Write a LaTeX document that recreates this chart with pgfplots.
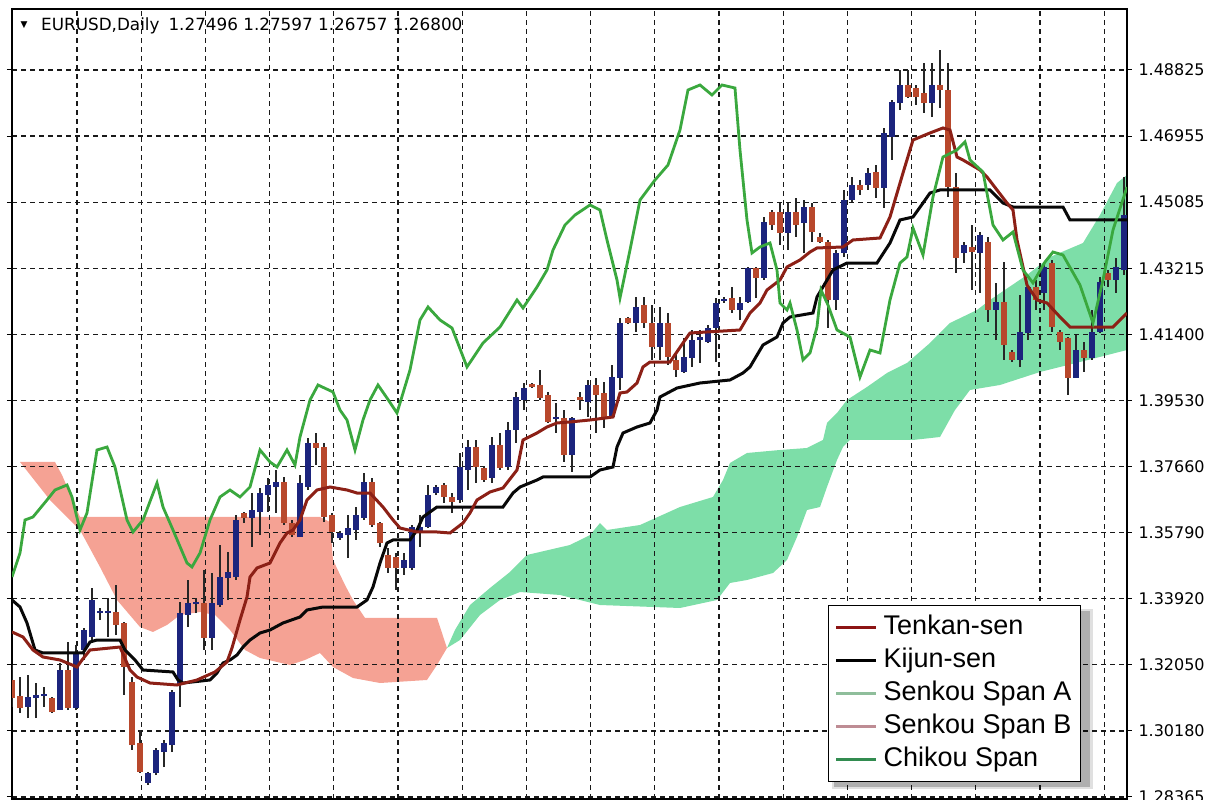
\documentclass[border=0pt]{standalone}
\usepackage{fontspec}
\setmainfont{Liberation Sans}
\newfontfamily\dejavu{DejaVu Sans}
\usepackage{pgfplots}
\usepackage{pgfplotstable}
\pgfplotsset{compat=1.18}
\definecolor{bullc}{RGB}{28,36,125}
\definecolor{bearc}{RGB}{184,72,44}
\definecolor{tenkanc}{RGB}{140,32,22}
\definecolor{kijunc}{RGB}{8,8,8}
\definecolor{chikouc}{RGB}{58,168,62}
\definecolor{cloudgreen}{RGB}{125,222,168}
\definecolor{cloudred}{RGB}{245,162,148}
\definecolor{legA}{RGB}{143,190,155}
\definecolor{legB}{RGB}{190,140,148}
\definecolor{legC}{RGB}{50,140,80}
\definecolor{legT}{RGB}{140,20,20}

% bullish candles: x o h l c
\pgfplotstableread{
x o h l c
2 1.30898 1.31798 1.30588 1.31179
3 1.31151 1.31573 1.30588 1.31236
4 1.31207 1.31461 1.30898 1.31264
6 1.30813 1.32136 1.30813 1.31939
8 1.30870 1.32643 1.30813 1.32446
9 1.32502 1.33121 1.32221 1.33065
10 1.32868 1.34247 1.32783 1.33909
11 1.33543 1.33684 1.33346 1.33599
12 1.33543 1.33965 1.32868 1.33599
17 1.28759 1.29069 1.28703 1.29040
18 1.29040 1.29744 1.28984 1.29688
19 1.29631 1.29969 1.29209 1.29885
20 1.29828 1.31376 1.29631 1.31320
21 1.31517 1.33853 1.30898 1.33543
22 1.33487 1.34472 1.33149 1.33825
23 1.33797 1.33965 1.33543 1.33853
25 1.32840 1.34669 1.32502 1.33825
26 1.33768 1.35457 1.33712 1.34556
27 1.34528 1.35260 1.33909 1.34697
28 1.34556 1.36301 1.34472 1.36161
30 1.36217 1.36920 1.35401 1.36442
31 1.36386 1.37061 1.35738 1.36920
32 1.36864 1.37343 1.36386 1.37146
33 1.37089 1.37568 1.36358 1.37230
36 1.35682 1.37427 1.35682 1.37202
37 1.37089 1.38468 1.37005 1.38328
41 1.35654 1.35851 1.35598 1.35795
42 1.35738 1.36301 1.35091 1.35935
43 1.35879 1.36526 1.35598 1.36301
44 1.36217 1.37483 1.36161 1.37230
49 1.34810 1.35232 1.34613 1.35035
50 1.34810 1.36020 1.34753 1.35964
51 1.35795 1.36301 1.35401 1.35964
52 1.35964 1.37146 1.35935 1.36864
53 1.36920 1.37146 1.36864 1.37089
56 1.36723 1.38046 1.36639 1.37652
57 1.37568 1.38412 1.37005 1.38215
60 1.37343 1.38497 1.37202 1.38271
62 1.37652 1.38919 1.37568 1.38694
63 1.38694 1.39763 1.38328 1.39622
64 1.39538 1.40016 1.39256 1.39875
68 1.39003 1.39453 1.38609 1.39059
70 1.37990 1.39059 1.37512 1.39031
72 1.39482 1.40101 1.39059 1.39960
75 1.39059 1.40523 1.39031 1.40185
76 1.40157 1.41846 1.39819 1.41705
78 1.41705 1.42437 1.41452 1.42155
81 1.41029 1.42155 1.40664 1.41705
84 1.40326 1.41283 1.40298 1.40748
85 1.40720 1.41508 1.40467 1.41226
86 1.41226 1.41508 1.40579 1.41311
87 1.41170 1.41649 1.41142 1.41564
88 1.41564 1.42408 1.40607 1.42268
89 1.42324 1.42437 1.42268 1.42380
91 1.42071 1.42437 1.41789 1.42268
92 1.42296 1.43281 1.42268 1.43253
94 1.42971 1.44688 1.42915 1.44547
97 1.44238 1.45082 1.43759 1.44829
99 1.44519 1.45166 1.43675 1.44969
103 1.42352 1.43759 1.42071 1.43675
104 1.43675 1.45448 1.43562 1.45166
105 1.45166 1.45814 1.45110 1.45589
107 1.45589 1.46067 1.45448 1.45926
109 1.45504 1.47193 1.44941 1.47052
110 1.46939 1.47981 1.46292 1.47924
111 1.47896 1.48825 1.47699 1.48403
115 1.47896 1.49022 1.47502 1.48403
119 1.43675 1.43984 1.43393 1.43900
121 1.43675 1.44266 1.42549 1.44181
123 1.42071 1.42831 1.41226 1.42296
126 1.40664 1.42493 1.40467 1.41452
127 1.41423 1.42774 1.41226 1.42718
129 1.42549 1.43393 1.42071 1.43281
133 1.40157 1.41367 1.40157 1.40945
135 1.40720 1.42071 1.40664 1.41452
136 1.41452 1.42999 1.41423 1.42859
138 1.42915 1.43534 1.42549 1.43281
139 1.43196 1.45814 1.43056 1.44744
}\bulltab

% bearish candles: x o h l c
\pgfplotstableread{
x o h l c
0 1.31658 1.32080 1.30898 1.31151
1 1.31207 1.31742 1.30729 1.30870
5 1.31151 1.31179 1.30729 1.30757
7 1.31939 1.32727 1.30813 1.30870
13 1.33571 1.34331 1.32924 1.33206
14 1.33262 1.33290 1.31236 1.32024
15 1.31601 1.31742 1.29688 1.29828
16 1.29885 1.30251 1.29040 1.29069
24 1.33825 1.34753 1.32502 1.32840
29 1.36358 1.36386 1.36076 1.36217
34 1.37230 1.37371 1.36020 1.36076
35 1.36076 1.36161 1.35682 1.35738
38 1.38328 1.38609 1.37709 1.38187
39 1.38215 1.38328 1.36104 1.36245
40 1.36301 1.36358 1.35513 1.35823
45 1.37230 1.37343 1.35964 1.36020
46 1.36076 1.36104 1.35401 1.35513
47 1.35176 1.35373 1.34669 1.34810
48 1.35119 1.35232 1.34191 1.34810
54 1.37146 1.37202 1.36639 1.36808
55 1.36808 1.36920 1.36358 1.36667
58 1.38215 1.38412 1.37202 1.37652
59 1.37624 1.37680 1.37230 1.37286
61 1.38271 1.38609 1.37568 1.37624
65 1.39988 1.40016 1.39875 1.39904
66 1.39960 1.40382 1.39538 1.39594
67 1.39679 1.39763 1.38891 1.38919
69 1.39031 1.39256 1.37793 1.37990
71 1.39622 1.39763 1.39256 1.39538
73 1.39960 1.40157 1.38609 1.39679
74 1.39735 1.40044 1.38750 1.39059
77 1.41846 1.41874 1.41677 1.41705
79 1.42211 1.42437 1.41564 1.41705
80 1.41705 1.42211 1.40664 1.41029
82 1.41705 1.41986 1.40523 1.40748
83 1.40664 1.40804 1.40185 1.40382
90 1.42408 1.42718 1.41986 1.42071
93 1.43253 1.43281 1.42408 1.42971
95 1.44829 1.44885 1.44322 1.44463
96 1.44829 1.45082 1.43900 1.44238
98 1.44829 1.45223 1.44125 1.44463
100 1.44969 1.45082 1.43984 1.44266
101 1.44125 1.44238 1.43956 1.43984
102 1.43984 1.44041 1.41564 1.42352
106 1.45589 1.45729 1.45307 1.45448
108 1.45954 1.46151 1.45223 1.45504
112 1.48403 1.48825 1.48037 1.48065
113 1.48318 1.48403 1.47840 1.48065
114 1.48178 1.49022 1.47615 1.47896
116 1.48403 1.49388 1.47756 1.48262
117 1.48262 1.49022 1.45251 1.45532
118 1.45532 1.45926 1.43112 1.43534
120 1.43844 1.44463 1.42634 1.43703
122 1.43984 1.44125 1.41733 1.42071
124 1.42296 1.43422 1.40664 1.41086
125 1.40889 1.40945 1.40607 1.40664
128 1.42718 1.42915 1.42071 1.42352
130 1.43393 1.43478 1.41452 1.41592
131 1.41452 1.41508 1.40945 1.41170
132 1.41283 1.41311 1.39679 1.40157
134 1.40945 1.41170 1.40326 1.40720
137 1.43112 1.43196 1.42718 1.42915
}\beartab

\pgfplotstableread{
x y
0 1.33009
1.375 1.32868
2.625 1.32502
3.875 1.32305
6 1.32221
8.125 1.32024
8.75 1.32221
9.75 1.32502
12.25 1.32558
13.5 1.32586
14.75 1.31939
15.625 1.31742
17.25 1.31573
20.625 1.31517
23.125 1.31658
25.375 1.31883
26.875 1.32164
27.5 1.32558
28.5 1.33346
29.375 1.33994
29.75 1.34556
30.625 1.34810
32.25 1.34950
33.5 1.35513
34.375 1.35795
35.125 1.35879
36 1.36161
36.875 1.36723
38.125 1.37005
39.75 1.37089
41.875 1.37005
43.125 1.36920
44.75 1.36920
46.375 1.36526
47.625 1.36161
48.5 1.35935
50.625 1.35823
53.125 1.35823
54.75 1.35795
56.375 1.36076
57.25 1.36358
58.125 1.36723
59.75 1.36949
61.375 1.37061
63.125 1.37568
63.875 1.38412
65.625 1.38609
66.875 1.38778
68.125 1.38891
69.75 1.38919
72.25 1.38975
75.125 1.39059
76 1.39735
76.875 1.39763
78.125 1.40016
78.875 1.40467
79.75 1.40607
82.25 1.40607
83.875 1.41142
84.75 1.41423
91 1.41508
92.25 1.41986
93.5 1.42268
94.375 1.42634
96 1.42915
96.875 1.43281
98.5 1.43478
99.75 1.43703
100.625 1.43816
103.875 1.43844
105.125 1.44041
108.5 1.44097
109.75 1.44688
111.375 1.45926
112.625 1.46855
114.75 1.47052
116.375 1.47193
117.25 1.47136
118.125 1.46377
118.875 1.46292
121 1.46011
121.875 1.45814
124.375 1.45082
125.125 1.44885
125.625 1.44041
126.875 1.42774
128.125 1.42352
129.375 1.42268
131 1.41874
132.25 1.41592
137.625 1.41592
139.375 1.41986
}\tenkan

\pgfplotstableread{
x y
0 1.33909
1 1.33712
1.875 1.33262
2.875 1.32502
3.875 1.32418
8.875 1.32418
9.75 1.32727
10.625 1.32783
13.5 1.32783
14.125 1.32502
15.375 1.32221
16.375 1.31939
20.125 1.31883
20.75 1.31658
21.375 1.31573
24.75 1.31658
25.625 1.31855
26.375 1.32136
27.25 1.32221
28.125 1.32361
28.875 1.32586
29.75 1.32783
31 1.32980
32.25 1.33065
33.875 1.33262
36 1.33431
36.875 1.33628
38.875 1.33712
43.125 1.33712
44.375 1.33909
45.125 1.34275
46 1.34950
46.875 1.35513
47.625 1.35598
49.75 1.35598
50.625 1.35879
51.375 1.36245
53.125 1.36526
61.375 1.36526
62.625 1.36920
63.5 1.37089
65.625 1.37286
66.375 1.37371
72.25 1.37371
73.5 1.37568
75.125 1.37652
75.625 1.38215
76.375 1.38609
78.125 1.38778
79.75 1.38891
80.625 1.39256
81 1.39622
83.125 1.39875
86 1.40016
89.75 1.40101
91.375 1.40298
92.25 1.40467
93.875 1.41086
95.625 1.41311
96.375 1.41705
97.25 1.41874
100.125 1.41986
100.625 1.42437
102.625 1.43196
104.375 1.43393
108.125 1.43393
109.75 1.43956
111 1.44604
112.625 1.44688
113.875 1.45082
114.75 1.45363
116 1.45448
122.25 1.45448
123.875 1.45082
125.125 1.44969
131.375 1.44969
132.25 1.44604
139.375 1.44604
}\kijun

\pgfplotstableread{
x y
0 1.34556
1 1.35232
1.625 1.36161
2.625 1.36245
4.375 1.36723
5.375 1.37005
6.875 1.37146
7.5 1.36808
8.5 1.35879
9.375 1.36358
10.625 1.38131
11.875 1.38215
12.875 1.37652
14.375 1.36161
15.125 1.35823
16.375 1.36161
18.125 1.37202
18.875 1.36526
20.125 1.35879
21.875 1.34950
22.5 1.34838
23.5 1.35232
24.75 1.36161
26 1.36808
27.25 1.37005
28.5 1.36808
29.75 1.37089
31 1.38131
32.25 1.37793
33.125 1.37652
34.375 1.38131
35.375 1.37709
36 1.38497
37.25 1.39538
38.25 1.39960
40.125 1.39763
41 1.39256
41.875 1.38975
42.875 1.38131
43.875 1.38975
44.75 1.39538
45.75 1.39960
46.875 1.39594
48.125 1.39172
49.75 1.40382
51 1.41789
52 1.42155
53.5 1.41789
55 1.41564
56.875 1.40467
58.875 1.41142
61 1.41592
63.125 1.42352
63.875 1.42127
65.625 1.42718
66.875 1.43196
67.625 1.43759
69.125 1.44463
70.375 1.44744
72.25 1.45026
73.5 1.44885
74.375 1.44041
75.625 1.42915
76 1.42408
77.25 1.43759
78.5 1.45166
80.375 1.45729
82 1.46151
83.5 1.47136
84.5 1.48262
86 1.48403
87.5 1.48121
88.75 1.48403
90.375 1.48318
91 1.46574
91.875 1.44604
92.5 1.43675
93.5 1.43844
94.75 1.43956
95.625 1.43196
96 1.42268
96.875 1.42071
97.25 1.42268
98.125 1.41508
98.875 1.40664
99.75 1.40861
100.625 1.41592
101.125 1.42634
102 1.42211
103.125 1.41508
104.75 1.41311
106 1.40185
107.25 1.40945
108.5 1.40861
109.75 1.42352
111 1.43393
111.875 1.43562
112.625 1.44378
113.875 1.43619
115.125 1.45251
116.375 1.46377
118.125 1.46574
119.125 1.46799
119.75 1.46292
121.375 1.45954
122.625 1.44463
123.875 1.44041
125.125 1.44266
126.375 1.43196
127.625 1.42831
129.125 1.43422
130.125 1.43703
131.375 1.43619
133.5 1.42774
135.125 1.41705
136.375 1.42915
137.625 1.44322
139.375 1.45532
}\chikou

% bearish cloud (Span B above Span A): outline, Span B forward then Span A back
\pgfplotstableread{
x y
1 1.37793
5.375 1.37793
6.25 1.37427
8.5 1.36245
38.5 1.36245
39.75 1.36104
40.125 1.35035
41.625 1.34331
42.625 1.33909
44.125 1.33403
53.125 1.33403
54.375 1.32558
53.125 1.32080
51.875 1.31658
46 1.31573
42.625 1.31714
40.125 1.32024
38.5 1.32418
36.625 1.32221
34.75 1.32080
31 1.32277
29.125 1.32502
27.25 1.33065
25.375 1.33487
23.5 1.33571
21 1.33487
19.375 1.33206
17.625 1.33009
16 1.33149
13.125 1.33909
11 1.34838
8.5 1.35879
4.75 1.36723
1 1.37793
}\cloudB

% bullish cloud (Span A above Span B): Span A forward then Span B back
\pgfplotstableread{
x y
54.375 1.32558
55.375 1.33065
57.25 1.33768
59.75 1.34247
62.25 1.34697
64.375 1.35176
69.75 1.35457
72.25 1.35738
73.5 1.36076
74.375 1.35879
78.5 1.36020
83.5 1.36526
87.625 1.36808
88.875 1.37286
89.75 1.37765
91.875 1.38046
96 1.38131
99.375 1.38187
101.375 1.38412
101.875 1.38891
103.125 1.39172
104.375 1.39538
106.875 1.39904
109.375 1.40298
111.875 1.40579
114.75 1.41142
117.25 1.41705
120.625 1.42071
122.25 1.42352
126.875 1.43056
129.75 1.43562
133.875 1.43956
136 1.44744
138.125 1.45645
139.375 1.45870
139.375 1.40945
133.5 1.40607
128.5 1.40326
123.5 1.39960
119.75 1.39819
117.875 1.39256
116 1.38497
112.625 1.38412
104.75 1.38412
103.875 1.38215
103.125 1.37849
101.875 1.37089
101 1.36526
99.375 1.36442
98.125 1.35682
96.875 1.35035
95.125 1.34669
91.875 1.34472
89.75 1.34388
88.125 1.33909
83.5 1.33684
73.5 1.33768
68.5 1.34050
63.5 1.34134
61 1.33909
58.5 1.33487
56 1.32783
54.375 1.32558
}\cloudA

\begin{document}
\begin{tikzpicture}
% legend shadow
\fill[black, opacity=0.22] (834pt,13pt) rectangle (1090pt,189pt);
\fill[black, opacity=0.12] (832pt,11pt) rectangle (1093pt,191pt);
\begin{axis}[
  at={(12pt,1pt)}, anchor=south west,
  width=1115pt, height=790pt, scale only axis,
  xmin=0, xmax=139.375,
  ymin=1.283087, ymax=1.505417,
  set layers,
  axis line style={line width=1.2pt, black},
  xtick={8.125,16.15,24.175,32.2,40.225,48.25,56.275,64.3,72.325,80.35,88.375,96.4,104.425,112.45,120.475,128.5,136.525},
  xticklabels={},
  xtick style={draw=none},
  ytick={1.28365,1.30225,1.32085,1.33945,1.35805,1.37665,1.39525,1.41385,1.43245,1.45105,1.46965,1.48825},
  yticklabels={1.28365,1.30180,1.32050,1.33920,1.35790,1.37660,1.39530,1.41400,1.43215,1.45085,1.46955,1.48825},
  yticklabel pos=right,
  tick align=outside,
  major tick length=5pt,
  ytick style={line width=1pt, black},
  grid=major,
  major grid style={dash pattern=on 5pt off 4pt, line width=1.2pt, black!90},
  yticklabel style={font=\dejavu\fontsize{16}{16}\selectfont, text=black, xshift=3pt},
  legend image code/.code={\draw[#1] (0pt,0pt) -- (40pt,0pt);},
  legend cell align=left,
  legend style={at={(0.7318,0.2456)}, anchor=north west,
    draw=black, line width=1.5pt, fill=white,
    inner xsep=6pt, inner ysep=5.5pt,
    font=\fontsize{27}{30}\selectfont,
    nodes={inner sep=3pt, text height=20pt, text depth=7pt},
    column sep=3pt},
]
% cloud
\addplot[fill=cloudred, draw=none, forget plot, on layer=axis background] table[x=x,y=y] {\cloudB} -- cycle;
\addplot[fill=cloudgreen, draw=none, forget plot, on layer=axis background] table[x=x,y=y] {\cloudA} -- cycle;

% wicks
\addplot[draw=none, mark=none, forget plot,
  error bars/.cd, y dir=plus, y explicit, error mark=none,
  error bar style={draw=black!85, line width=1.4pt}]
  table[x=x, y=l, y error plus expr={\thisrow{h}-\thisrow{l}}] {\bulltab};
\addplot[draw=none, mark=none, forget plot,
  error bars/.cd, y dir=plus, y explicit, error mark=none,
  error bar style={draw=black!85, line width=1.4pt}]
  table[x=x, y=l, y error plus expr={\thisrow{h}-\thisrow{l}}] {\beartab};
% bodies
\addplot[draw=none, mark=none, forget plot,
  error bars/.cd, y dir=plus, y explicit, error mark=none,
  error bar style={draw=bullc, line width=6pt}]
  table[x=x, y expr={min(\thisrow{o},\thisrow{c})}, y error plus expr={max(abs(\thisrow{c}-\thisrow{o}),0.0005)}] {\bulltab};
\addplot[draw=none, mark=none, forget plot,
  error bars/.cd, y dir=plus, y explicit, error mark=none,
  error bar style={draw=bearc, line width=6pt}]
  table[x=x, y expr={min(\thisrow{o},\thisrow{c})}, y error plus expr={max(abs(\thisrow{c}-\thisrow{o}),0.0005)}] {\beartab};

% lines
\addplot[kijunc, line width=3pt, forget plot] table[x=x,y=y] {\kijun};
\addplot[tenkanc, line width=3pt, forget plot] table[x=x,y=y] {\tenkan};
\addplot[chikouc, line width=2.8pt, forget plot] table[x=x,y=y] {\chikou};

\addlegendimage{legT, line width=3pt}
\addlegendentry{Tenkan-sen}
\addlegendimage{black, line width=3pt}
\addlegendentry{Kijun-sen}
\addlegendimage{legA, line width=3pt}
\addlegendentry{Senkou Span A}
\addlegendimage{legB, line width=3pt}
\addlegendentry{Senkou Span B}
\addlegendimage{legC, line width=3pt}
\addlegendentry{Chikou Span}
\end{axis}
\node[font=\dejavu\fontsize{9}{9}\selectfont, inner sep=0pt] at (24pt,775pt) {▼};
\node[anchor=base west, font=\dejavu\fontsize{16.8}{18}\selectfont, inner sep=0pt] at (41pt,769pt) {EURUSD,Daily\hspace{9pt}1.27496 1.27597 1.26757 1.26800};
\pgfresetboundingbox
\useasboundingbox (0,0) rectangle (1213pt,800pt);
\end{tikzpicture}
\end{document}
